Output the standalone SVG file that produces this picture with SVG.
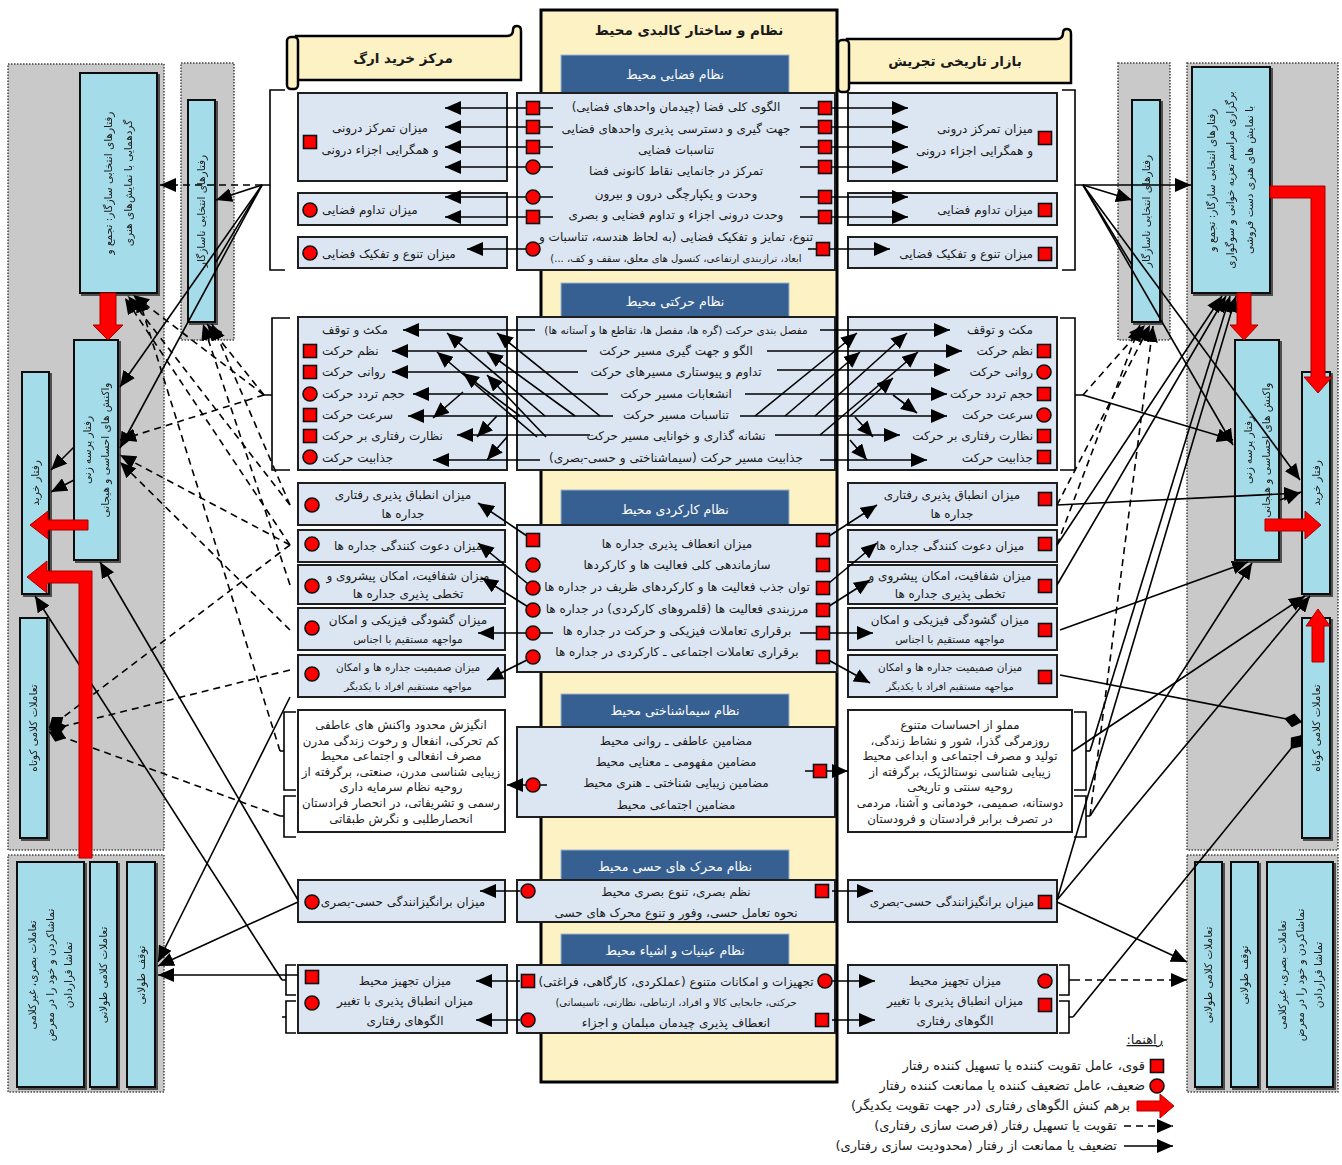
<svg xmlns="http://www.w3.org/2000/svg" width="1342" height="1165" viewBox="0 0 1342 1165">
<style>
.f{font-family:"DejaVu Sans",sans-serif;fill:#1a1a1a;direction:rtl;font-size:12px}
.mid{text-anchor:middle}
.rt{text-anchor:start}
.lt{text-anchor:end}
.sm{font-size:10.5px}
.xs{font-size:10px}
.sem{font-size:11.8px}
.lg{font-size:13px}
.b{font-weight:bold;font-size:13.5px}
.cbox{fill:#dce6f2;stroke:#1f1f1f;stroke-width:2}
.wbox{fill:#fff;stroke:#1f1f1f;stroke-width:2}
.hdr{fill:#376092;stroke:#9db3d0;stroke-width:1}
.htx{fill:#fff;font-size:12.5px}
.sbox{fill:#a5dce9;stroke:#111;stroke-width:2}
.panel{fill:#c9c9c9;stroke:#444;stroke-width:1.5;stroke-dasharray:1.5 1.5}
.mk{fill:#f00;stroke:#111;stroke-width:1.6}
.ln{stroke:#000;stroke-width:1.6;fill:none}
.ds{stroke:#000;stroke-width:1.6;fill:none;stroke-dasharray:7 5}
.br{stroke:#000;stroke-width:1.6;fill:none}
.red{fill:#f00;stroke:#a00;stroke-width:1}
.rot{font-size:10.5px}
</style>
<defs>
<marker id="ah" viewBox="0 0 16 14" refX="16" refY="7" markerWidth="16" markerHeight="14" markerUnits="userSpaceOnUse" orient="auto"><path d="M0,0 L16,7 L0,14 z" fill="#000"/></marker>
<marker id="dm" viewBox="0 0 18 14" refX="18" refY="7" markerWidth="18" markerHeight="14" markerUnits="userSpaceOnUse" orient="auto"><path d="M0,7 L9,0 L18,7 L9,14 z" fill="#000"/></marker>
<rect id="sq" x="-6.5" y="-6.5" width="13" height="13" class="mk"/>
<circle id="ci" r="7" class="mk"/>
<filter id="sh" x="-10%" y="-10%" width="130%" height="130%"><feDropShadow dx="2" dy="2" stdDeviation="0.6" flood-color="#333" flood-opacity="0.8"/></filter>
</defs>
<rect width="1342" height="1165" fill="#fff"/>

<!-- side panels -->
<g id="panels">
<rect class="panel" x="8" y="64" width="156" height="786"/>
<rect class="panel" x="181" y="63" width="53" height="277"/>
<rect class="panel" x="8" y="855" width="156" height="237"/>
<rect class="panel" x="1118" y="63" width="52" height="277"/>
<rect class="panel" x="1187" y="63" width="151" height="787"/>
<rect class="panel" x="1187" y="855" width="151" height="237"/>
</g>

<!-- central column -->
<g id="central-column">
<rect x="541" y="10" width="296" height="1072" fill="#fcf2c4" stroke="#000" stroke-width="3"/>
<text class="f mid b" x="689" y="35">نظام و ساختار کالبدی محیط</text>
</g>

<!-- banners -->
<g id="banner-arg">
<path d="M296,36 H507 Q513,36 513,30 Q513,26 517,26 Q521,26 521,31 V80 H296 Z" fill="#fcf2c4" stroke="#000" stroke-width="2.5"/>
<rect x="287" y="37" width="11" height="52" rx="4" fill="#fcf2c4" stroke="#000" stroke-width="2.5"/>
<text class="f mid b" x="403" y="63">مرکز خرید ارگ</text>
</g>
<g id="banner-tajrish">
<path d="M847,39 H1057 Q1063,39 1063,33 Q1063,29 1067,29 Q1071,29 1071,34 V83 H847 Z" fill="#fcf2c4" stroke="#000" stroke-width="2.5"/>
<rect x="838" y="40" width="11" height="52" rx="4" fill="#fcf2c4" stroke="#000" stroke-width="2.5"/>
<text class="f mid b" x="955" y="66">بازار تاریخی تجریش</text>
</g>

<!-- headers -->
<g id="headers">
<rect class="hdr" x="561" y="55" width="228" height="38"/><text class="f mid htx" x="675" y="79">نظام فضایی محیط</text>
<rect class="hdr" x="561" y="283" width="228" height="35"/><text class="f mid htx" x="675" y="306">نظام حرکتی محیط</text>
<rect class="hdr" x="561" y="490" width="228" height="36"/><text class="f mid htx" x="675" y="514">نظام کارکردی محیط</text>
<rect class="hdr" x="561" y="694" width="228" height="34"/><text class="f mid htx" x="675" y="715">نظام سیماشناختی محیط</text>
<rect class="hdr" x="561" y="850" width="228" height="31"/><text class="f mid htx" x="675" y="871">نظام محرک های حسی محیط</text>
<rect class="hdr" x="561" y="934" width="228" height="32"/><text class="f mid htx" x="675" y="955">نظام عینیات و اشیاء محیط</text>
</g>

<!-- central boxes -->
<g id="c-spatial">
<rect class="cbox" x="517" y="93" width="318" height="177"/>
<text class="f mid" x="676" y="111">الگوی کلی فضا (چیدمان واحدهای فضایی)</text>
<text class="f mid" x="676" y="133">جهت گیری و دسترسی پذیری واحدهای فضایی</text>
<text class="f mid" x="676" y="154">تناسبات فضایی</text>
<text class="f mid" x="676" y="175">تمرکز در جانمایی نقاط کانونی فضا</text>
<text class="f mid" x="676" y="198">وحدت و یکپارچگی درون و بیرون</text>
<text class="f mid" x="676" y="219">وحدت درونی اجزاء و تداوم فضایی و بصری</text>
<text class="f mid" x="676" y="241">تنوع، تمایز و تفکیک فضایی (به لحاظ هندسه، تناسبات و</text>
<text class="f mid xs" x="676" y="262">ابعاد، ترازبندی ارتفاعی، کنسول های معلق، سقف و کف، ...)</text>
</g>
<g id="c-movement">
<rect class="cbox" x="517" y="317" width="318" height="153"/>
<text class="f mid sm" x="676" y="334">مفصل بندی حرکت (گره ها، مفصل ها، تقاطع ها و آستانه ها)</text>
<text class="f mid" x="676" y="355">الگو و جهت گیری مسیر حرکت</text>
<text class="f mid" x="676" y="376">تداوم و پیوستاری مسیرهای حرکت</text>
<text class="f mid" x="676" y="398">انشعابات مسیر حرکت</text>
<text class="f mid" x="676" y="419">تناسبات مسیر حرکت</text>
<text class="f mid" x="676" y="440">نشانه گذاری و خوانایی مسیر حرکت</text>
<text class="f mid" x="676" y="462">جذابیت مسیر حرکت (سیماشناختی و حسی-بصری)</text>
</g>
<g id="c-functional">
<rect class="cbox" x="517" y="525" width="320" height="147"/>
<text class="f mid" x="677" y="548">میزان انعطاف پذیری جداره ها</text>
<text class="f mid" x="677" y="569">سازماندهی کلی فعالیت ها و کارکردها</text>
<text class="f mid" x="677" y="591">توان جذب فعالیت ها و کارکردهای ظریف در جداره ها</text>
<text class="f mid" x="677" y="613">مرزبندی فعالیت ها (قلمروهای کارکردی) در جداره ها</text>
<text class="f mid" x="677" y="635">برقراری تعاملات فیزیکی و حرکت در جداره ها</text>
<text class="f mid" x="677" y="656">برقراری تعاملات اجتماعی ـ کارکردی در جداره ها</text>
</g>
<g id="c-semiotic">
<rect class="cbox" x="517" y="727" width="318" height="90"/>
<text class="f mid" x="676" y="745">مضامین عاطفی ـ روانی محیط</text>
<text class="f mid" x="676" y="766">مضامین مفهومی ـ معنایی محیط</text>
<text class="f mid" x="676" y="787">مضامین زیبایی شناختی ـ هنری محیط</text>
<text class="f mid" x="676" y="809">مضامین اجتماعی محیط</text>
</g>
<g id="c-sensory">
<rect class="cbox" x="517" y="880" width="318" height="42"/>
<text class="f mid" x="676" y="896">نظم بصری، تنوع بصری محیط</text>
<text class="f mid" x="676" y="917">نحوه تعامل حسی، وفور و تنوع محرک های حسی</text>
</g>
<g id="c-objects">
<rect class="cbox" x="517" y="965" width="318" height="68"/>
<text class="f mid" x="676" y="986">تجهیزات و امکانات متنوع (عملکردی، کارگاهی، فراغتی)</text>
<text class="f mid xs" x="676" y="1006">حرکتی، جابجایی کالا و افراد، ارتباطی، نظارتی، تاسیساتی)</text>
<text class="f mid" x="676" y="1027">انعطاف پذیری چیدمان مبلمان و اجزاء</text>
</g>

<!-- left boxes -->
<g id="l-spatial">
<rect class="cbox" x="298" y="93" width="209" height="88"/>
<text class="f mid" x="380" y="132">میزان تمرکز درونی</text>
<text class="f mid" x="380" y="154">و همگرایی اجزاء درونی</text>
<use href="#sq" x="310" y="142"/>
<rect class="cbox" x="298" y="193" width="209" height="32"/>
<text class="f lt" x="322" y="214">میزان تداوم فضایی</text>
<use href="#ci" x="310" y="210"/>
<rect class="cbox" x="298" y="237" width="209" height="31"/>
<text class="f lt" x="322" y="258">میزان تنوع و تفکیک فضایی</text>
<use href="#ci" x="310" y="253"/>
</g>
<g id="r-spatial">
<rect class="cbox" x="848" y="93" width="209" height="88"/>
<text class="f rt" x="1033" y="133">میزان تمرکز درونی</text>
<text class="f rt" x="1033" y="155">و همگرایی اجزاء درونی</text>
<use href="#sq" x="1045" y="138"/>
<rect class="cbox" x="848" y="193" width="209" height="32"/>
<text class="f rt" x="1033" y="214">میزان تداوم فضایی</text>
<use href="#sq" x="1045" y="210"/>
<rect class="cbox" x="848" y="237" width="209" height="31"/>
<text class="f rt" x="1033" y="258">میزان تنوع و تفکیک فضایی</text>
<use href="#sq" x="1045" y="254"/>
</g>

<g id="l-movement">
<rect class="cbox" x="298" y="317" width="209" height="153"/>
<text class="f lt" x="322" y="334">مکث و توقف</text>
<text class="f lt" x="322" y="355">نظم حرکت</text>
<text class="f lt" x="322" y="376">روانی حرکت</text>
<text class="f lt" x="322" y="398">حجم تردد حرکت</text>
<text class="f lt" x="322" y="419">سرعت حرکت</text>
<text class="f lt" x="322" y="440">نظارت رفتاری بر حرکت</text>
<text class="f lt" x="322" y="462">جذابیت حرکت</text>
<use href="#sq" x="310" y="351"/><use href="#sq" x="310" y="372"/><use href="#ci" x="310" y="394"/><use href="#sq" x="310" y="415"/><use href="#sq" x="310" y="436"/><use href="#ci" x="310" y="457"/>
</g>
<g id="r-movement">
<rect class="cbox" x="848" y="317" width="209" height="153"/>
<text class="f rt" x="1033" y="334">مکث و توقف</text>
<text class="f rt" x="1033" y="355">نظم حرکت</text>
<text class="f rt" x="1033" y="376">روانی حرکت</text>
<text class="f rt" x="1033" y="398">حجم تردد حرکت</text>
<text class="f rt" x="1033" y="419">سرعت حرکت</text>
<text class="f rt" x="1033" y="440">نظارت رفتاری بر حرکت</text>
<text class="f rt" x="1033" y="462">جذابیت حرکت</text>
<use href="#sq" x="1044" y="351"/><use href="#ci" x="1044" y="372"/><use href="#sq" x="1044" y="394"/><use href="#ci" x="1044" y="415"/><use href="#sq" x="1044" y="436"/><use href="#sq" x="1044" y="457"/>
</g>

<g id="l-functional">
<rect class="cbox" x="298" y="483" width="207" height="42"/>
<text class="f mid" x="403" y="499">میزان انطباق پذیری رفتاری</text>
<text class="f mid" x="403" y="518">جداره ها</text>
<use href="#ci" x="312" y="505"/>
<rect class="cbox" x="298" y="530" width="207" height="32"/>
<text class="f mid" x="408" y="550">میزان دعوت کنندگی جداره ها</text>
<use href="#ci" x="312" y="544"/>
<rect class="cbox" x="298" y="565" width="207" height="39"/>
<text class="f mid" x="408" y="580">میزان شفافیت، امکان پیشروی و</text>
<text class="f mid" x="408" y="598">تخطی پذیری جداره ها</text>
<use href="#ci" x="312" y="586"/>
<rect class="cbox" x="298" y="608" width="207" height="42"/>
<text class="f mid" x="408" y="624">میزان گشودگی فیزیکی و امکان</text>
<text class="f mid sm" x="408" y="643">مواجهه مستقیم با اجناس</text>
<use href="#ci" x="312" y="628"/>
<rect class="cbox" x="298" y="655" width="207" height="42"/>
<text class="f mid sm" x="408" y="671">میزان صمیمیت جداره ها و امکان</text>
<text class="f mid xs" x="408" y="690">مواجهه مستقیم افراد با یکدیگر</text>
<use href="#ci" x="312" y="674"/>
</g>
<g id="r-functional">
<rect class="cbox" x="848" y="483" width="209" height="42"/>
<text class="f mid" x="952" y="499">میزان انطباق پذیری رفتاری</text>
<text class="f mid" x="952" y="518">جداره ها</text>
<use href="#sq" x="1045" y="499"/>
<rect class="cbox" x="848" y="530" width="209" height="32"/>
<text class="f mid" x="950" y="550">میزان دعوت کنندگی جداره ها</text>
<use href="#sq" x="1045" y="544"/>
<rect class="cbox" x="848" y="565" width="209" height="39"/>
<text class="f mid" x="950" y="580">میزان شفافیت، امکان پیشروی و</text>
<text class="f mid" x="950" y="598">تخطی پذیری جداره ها</text>
<use href="#sq" x="1045" y="586"/>
<rect class="cbox" x="848" y="608" width="209" height="42"/>
<text class="f mid" x="950" y="624">میزان گشودگی فیزیکی و امکان</text>
<text class="f mid sm" x="950" y="643">مواجهه مستقیم با اجناس</text>
<use href="#sq" x="1045" y="630"/>
<rect class="cbox" x="848" y="655" width="209" height="42"/>
<text class="f mid sm" x="950" y="671">میزان صمیمیت جداره ها و امکان</text>
<text class="f mid xs" x="950" y="690">مواجهه مستقیم افراد با یکدیگر</text>
<use href="#sq" x="1045" y="677"/>
</g>

<g id="l-semiotic">
<rect class="wbox" x="298" y="710" width="207" height="122"/>
<text class="f mid sem" x="401" y="729">انگیزش محدود واکنش های عاطفی</text>
<text class="f mid sem" x="401" y="745">کم تحرکی، انفعال و رخوت زندگی مدرن</text>
<text class="f mid sem" x="401" y="760">مصرف انفعالی و اجتماعی محیط</text>
<text class="f mid sem" x="401" y="776">زیبایی شناسی مدرن، صنعتی، برگرفته از</text>
<text class="f mid sem" x="401" y="791">روحیه نظام سرمایه داری</text>
<text class="f mid sem" x="401" y="807">رسمی و تشریفاتی، در انحصار فرادستان</text>
<text class="f mid sem" x="401" y="823">انحصارطلبی و نگرش طبقاتی</text>
</g>
<g id="r-semiotic">
<rect class="wbox" x="848" y="710" width="224" height="122"/>
<text class="f mid sem" x="960" y="729">مملو از احساسات متنوع</text>
<text class="f mid sem" x="960" y="745">روزمرگی گذرا، شور و نشاط زندگی،</text>
<text class="f mid sem" x="960" y="760">تولید و مصرف اجتماعی و ابداعی محیط</text>
<text class="f mid sem" x="960" y="776">زیبایی شناسی نوستالژیک، برگرفته از</text>
<text class="f mid sem" x="960" y="791">روحیه سنتی و تاریخی</text>
<text class="f mid sem" x="960" y="807">دوستانه، صمیمی، خودمانی و آشنا، مردمی</text>
<text class="f mid sem" x="960" y="823">در تصرف برابر فرادستان و فرودستان</text>
</g>

<g id="l-sensory">
<rect class="cbox" x="298" y="880" width="207" height="42"/>
<text class="f mid" x="403" y="906">میزان برانگیزانندگی حسی-بصری</text>
<use href="#ci" x="312" y="902"/>
</g>
<g id="r-sensory">
<rect class="cbox" x="848" y="880" width="209" height="42"/>
<text class="f mid" x="952" y="906">میزان برانگیزانندگی حسی-بصری</text>
<use href="#sq" x="1045" y="902"/>
</g>
<g id="l-objects">
<rect class="cbox" x="298" y="965" width="209" height="68"/>
<text class="f mid" x="405" y="985">میزان تجهیز محیط</text>
<text class="f mid" x="405" y="1005">میزان انطباق پذیری با تغییر</text>
<text class="f mid" x="405" y="1025">الگوهای رفتاری</text>
<use href="#sq" x="312" y="977"/><use href="#ci" x="312" y="1003"/>
</g>
<g id="r-objects">
<rect class="cbox" x="848" y="965" width="209" height="68"/>
<text class="f mid" x="955" y="985">میزان تجهیز محیط</text>
<text class="f mid" x="955" y="1005">میزان انطباق پذیری با تغییر</text>
<text class="f mid" x="955" y="1025">الگوهای رفتاری</text>
<use href="#ci" x="1045" y="981"/><use href="#sq" x="1045" y="1005"/>
</g>

<!-- side behaviour boxes -->
<g id="l-sazgar" filter="url(#sh)">
<rect class="sbox" x="80" y="73" width="77" height="220"/>
<text class="f mid rot" transform="translate(118,183) rotate(-90)"><tspan x="0" y="-6">رفتارهای انتخابی سازگار: تجمع و</tspan><tspan x="0" y="14">گردهمایی با نمایش‌های هنری</tspan></text>
</g>
<g id="l-nasazgar" filter="url(#sh)">
<rect class="sbox" x="188" y="100" width="27" height="222"/>
<text class="f mid rot" transform="translate(205,211) rotate(-90)">رفتارهای انتخابی ناسازگار</text>
</g>
<g id="l-parse" filter="url(#sh)">
<rect class="sbox" x="74" y="340" width="44" height="220"/>
<text class="f mid rot" transform="translate(96,450) rotate(-90)"><tspan x="0" y="-5">رفتار پرسه زنی</tspan><tspan x="0" y="13">واکنش های احساسی و هیجانی</tspan></text>
</g>
<g id="l-kharid" filter="url(#sh)">
<rect class="sbox" x="22" y="372" width="27" height="222"/>
<text class="f mid rot" transform="translate(39,483) rotate(-90)">رفتار خرید</text>
</g>
<g id="l-kotah" filter="url(#sh)">
<rect class="sbox" x="20" y="618" width="27" height="220"/>
<text class="f mid rot" transform="translate(37,728) rotate(-90)">تعاملات کلامی کوتاه</text>
</g>
<g id="l-basari" filter="url(#sh)">
<rect class="sbox" x="17" y="862" width="67" height="225"/>
<text class="f mid rot" transform="translate(50,975) rotate(-90)"><tspan x="0" y="-14">تعاملات بصری، غیرکلامی</tspan><tspan x="0" y="4">تماشاکردن و خود را در معرض</tspan><tspan x="0" y="22">تماشا قراردادن</tspan></text>
</g>
<g id="l-talani" filter="url(#sh)">
<rect class="sbox" x="90" y="862" width="27" height="225"/>
<text class="f mid rot" transform="translate(107,975) rotate(-90)">تعاملات کلامی طولانی</text>
</g>
<g id="l-tavaqof" filter="url(#sh)">
<rect class="sbox" x="127" y="862" width="28" height="225"/>
<text class="f mid rot" transform="translate(145,975) rotate(-90)">توقف طولانی</text>
</g>

<g id="r-nasazgar" filter="url(#sh)">
<rect class="sbox" x="1132" y="100" width="28" height="222"/>
<text class="f mid rot" transform="translate(1150,211) rotate(-90)">رفتارهای انتخابی ناسازگار</text>
</g>
<g id="r-sazgar" filter="url(#sh)">
<rect class="sbox" x="1192" y="67" width="78" height="226"/>
<text class="f mid rot" transform="translate(1231,180) rotate(-90)"><tspan x="0" y="-16">رفتارهای انتخابی سازگار: تجمع و</tspan><tspan x="0" y="3">برگزاری مراسم تعزیه خوانی و سوگواری</tspan><tspan x="0" y="22">با نمایش های هنری دست فروشی</tspan></text>
</g>
<g id="r-parse" filter="url(#sh)">
<rect class="sbox" x="1235" y="340" width="44" height="220"/>
<text class="f mid rot" transform="translate(1257,450) rotate(-90)"><tspan x="0" y="-5">رفتار پرسه زنی</tspan><tspan x="0" y="13">واکنش های احساسی و هیجانی</tspan></text>
</g>
<g id="r-kharid" filter="url(#sh)">
<rect class="sbox" x="1302" y="372" width="28" height="222"/>
<text class="f mid rot" transform="translate(1320,483) rotate(-90)">رفتار خرید</text>
</g>
<g id="r-kotah" filter="url(#sh)">
<rect class="sbox" x="1302" y="618" width="28" height="220"/>
<text class="f mid rot" transform="translate(1320,728) rotate(-90)">تعاملات کلامی کوتاه</text>
</g>
<g id="r-talani" filter="url(#sh)">
<rect class="sbox" x="1195" y="862" width="27" height="225"/>
<text class="f mid rot" transform="translate(1212,975) rotate(-90)">تعاملات کلامی طولانی</text>
</g>
<g id="r-tavaqof" filter="url(#sh)">
<rect class="sbox" x="1231" y="862" width="27" height="225"/>
<text class="f mid rot" transform="translate(1248,975) rotate(-90)">توقف طولانی</text>
</g>
<g id="r-basari" filter="url(#sh)">
<rect class="sbox" x="1267" y="862" width="66" height="225"/>
<text class="f mid rot" transform="translate(1300,975) rotate(-90)"><tspan x="0" y="-14">تعاملات بصری، غیرکلامی</tspan><tspan x="0" y="4">تماشاکردن و خود را در معرض</tspan><tspan x="0" y="22">تماشا قراردادن</tspan></text>
</g>

<!-- connectors -->
<g id="connectors">
<!-- brackets -->
<path class="br" d="M285,90 H270 V270 H285 M270,185 H262"/>
<path class="br" d="M290,318 H272 V470 H290 M272,395 H264"/>
<path class="br" d="M296,712 H284 V790 H296 M284,751 H280 M296,796 H284 V837 H296 M284,816 H280"/>
<path class="br" d="M296,965 H286 V995 H296 M286,980 H282 M296,1001 H286 V1033 H296 M286,1017 H282"/>
<path class="br" d="M1062,90 H1075 V270 H1062 M1075,185 H1083"/>
<path class="br" d="M1060,318 H1075 V470 H1060 M1075,395 H1083"/>
<path class="br" d="M1074,712 H1086 V790 H1074 M1086,751 H1090 M1074,796 H1086 V837 H1074 M1086,816 H1090"/>
<path class="br" d="M1059,965 H1069 V995 H1059 M1069,980 H1073 M1059,1001 H1069 V1033 H1059 M1069,1017 H1073"/>

<!-- spatial arrows -->
<g marker-end="url(#ah)">
<path class="ln" d="M553,108 H445"/><path class="ln" d="M553,127 H445"/><path class="ln" d="M553,147 H445"/><path class="ln" d="M553,167 H445"/>
<path class="ln" d="M553,197 H445"/><path class="ln" d="M553,217 H445"/><path class="ln" d="M533,249 H467"/>
<path class="ln" d="M800,108 H908"/><path class="ln" d="M800,127 H908"/><path class="ln" d="M800,147 H908"/><path class="ln" d="M800,167 H908"/>
<path class="ln" d="M800,197 H908"/><path class="ln" d="M800,217 H908"/><path class="ln" d="M808,249 H890"/>
</g>
<use href="#sq" x="533" y="108"/><use href="#sq" x="533" y="127"/><use href="#sq" x="533" y="147"/><use href="#ci" x="533" y="167"/><use href="#ci" x="533" y="197"/><use href="#sq" x="533" y="217"/><use href="#ci" x="533" y="249"/>
<use href="#sq" x="825" y="108"/><use href="#sq" x="825" y="127"/><use href="#sq" x="825" y="147"/><use href="#sq" x="825" y="167"/><use href="#sq" x="825" y="197"/><use href="#sq" x="825" y="217"/><use href="#sq" x="823" y="249"/>

<!-- movement arrows -->
<g marker-end="url(#ah)">
<path class="ln" d="M535,330 H403"/><path class="ln" d="M587,351 H392"/><path class="ln" d="M578,372 H392"/><path class="ln" d="M608,394 H413"/><path class="ln" d="M613,416 H408"/><path class="ln" d="M590,435 H457"/><path class="ln" d="M540,460 H433"/>
<path class="ln" d="M600,416 L497,333"/><path class="ln" d="M545,416 L447,333"/><path class="ln" d="M575,416 L487,352"/><path class="ln" d="M537,437 L437,352"/><path class="ln" d="M546,437 L487,375"/><path class="ln" d="M520,416 L463,373"/>
<path class="ln" d="M463,392 L433,418"/><path class="ln" d="M497,416 L477,437"/><path class="ln" d="M507,437 L487,460"/>
<path class="ln" d="M820,330 H950"/><path class="ln" d="M767,351 H962"/><path class="ln" d="M777,370 H950"/><path class="ln" d="M745,394 H947"/><path class="ln" d="M740,416 H947"/><path class="ln" d="M775,435 H900"/><path class="ln" d="M820,460 H927"/>
<path class="ln" d="M755,416 L857,333"/><path class="ln" d="M785,416 L860,352"/><path class="ln" d="M815,416 L907,333"/><path class="ln" d="M820,435 L918,352"/><path class="ln" d="M850,416 L893,378"/>
<path class="ln" d="M893,395 L917,413"/><path class="ln" d="M855,417 L873,437"/><path class="ln" d="M850,440 L867,460"/>
</g>

<!-- functional arrows -->
<g marker-end="url(#ah)">
<path class="ln" d="M533,540 L478,503"/><path class="ln" d="M533,588 L478,543"/><path class="ln" d="M533,610 L482,578"/><path class="ln" d="M553,633 H478"/><path class="ln" d="M533,657 L487,680"/>
<path class="ln" d="M823,540 L877,505"/><path class="ln" d="M823,588 L877,543"/><path class="ln" d="M823,610 L870,580"/><path class="ln" d="M800,633 H873"/><path class="ln" d="M823,657 L870,683"/>
</g>
<use href="#sq" x="533" y="540"/><use href="#ci" x="533" y="565"/><use href="#ci" x="533" y="588"/><use href="#ci" x="533" y="610"/><use href="#ci" x="533" y="633"/><use href="#ci" x="533" y="657"/>
<use href="#sq" x="823" y="540"/><use href="#sq" x="823" y="565"/><use href="#sq" x="823" y="588"/><use href="#sq" x="823" y="610"/><use href="#sq" x="823" y="633"/><use href="#sq" x="823" y="657"/>

<!-- semiotic, sensory, objects arrows -->
<g marker-end="url(#ah)">
<path class="ln" d="M547,785 H507"/><path class="ln" d="M805,771 H848"/>
<path class="ln" d="M520,891 H480"/><path class="ln" d="M832,891 H873"/>
<path class="ln" d="M520,981 H476"/><path class="ln" d="M520,1020 H476"/>
<path class="ln" d="M832,981 H875"/><path class="ln" d="M832,1020 H875"/>
</g>
<use href="#ci" x="533" y="785"/><use href="#sq" x="820" y="771"/>
<use href="#ci" x="528" y="891"/><use href="#sq" x="822" y="891"/>
<use href="#sq" x="528" y="981"/><use href="#ci" x="528" y="1020"/><use href="#ci" x="825" y="981"/><use href="#sq" x="822" y="1020"/>

<!-- left side solid -->
<g marker-end="url(#ah)">
<path class="ln" d="M262,185 L216,200"/>
<path class="ln" d="M262,185 L120,387"/>
<path class="ln" d="M262,185 L120,448"/>
<path class="ln" d="M74,447 L51,470"/>
<path class="ln" d="M74,480 L51,492"/>
<path class="ln" d="M298,900 L100,562"/>
<path class="ln" d="M282,980 L35,596"/>
<path class="ln" d="M290,697 L158,962"/>
<path class="ln" d="M298,902 L158,966"/>
<path class="ln" d="M298,975 L158,975"/>
</g>
<path class="ln" d="M262,185 L216,262"/>
<!-- left side dashed -->
<g marker-end="url(#ah)">
<path class="ds" d="M262,185 L160,185"/>
<path class="ds" d="M264,395 L120,440"/>
<path class="ds" d="M264,395 L133,295"/>
<path class="ds" d="M264,395 L207,324"/>
<path class="ds" d="M290,505 L128,296"/>
<path class="ds" d="M290,505 L212,324"/>
<path class="ds" d="M290,545 L125,298"/>
<path class="ds" d="M290,585 L203,324"/>
<path class="ds" d="M290,630 L120,462"/>
<path class="ds" d="M280,751 L138,296"/>
<path class="ds" d="M290,545 L120,455"/>
</g>
<g marker-end="url(#dm)">
<path class="ds" d="M290,545 L49,728"/>
<path class="ds" d="M290,670 L49,730"/>
<path class="ds" d="M280,816 L49,732"/>
</g>

<!-- right side solid -->
<g marker-end="url(#ah)">
<path class="ln" d="M1083,185 L1191,185"/>
<path class="ln" d="M1083,185 L1132,200"/>
<path class="ln" d="M1083,185 L1233,445"/>
<path class="ln" d="M1083,185 L1300,480"/>
<path class="ln" d="M1083,395 L1233,440"/>
<path class="ln" d="M1057,505 L1300,493"/>
<path class="ln" d="M1057,545 L1222,296"/>
<path class="ln" d="M1057,585 L1226,296"/>
<path class="ln" d="M1060,630 L1248,562"/>
<path class="ln" d="M1090,751 L1230,296"/>
<path class="ln" d="M1090,816 L1252,563"/>
<path class="ln" d="M1057,900 L1236,296"/>
<path class="ln" d="M1057,900 L1310,596"/>
<path class="ln" d="M1073,751 L1305,596"/>
<path class="ln" d="M1057,902 L1187,962"/>
<path class="ln" d="M1280,500 L1301,492"/>
</g>
<g marker-end="url(#dm)">
<path class="ln" d="M1060,675 L1302,722"/>
<path class="ln" d="M1073,1017 L1302,735"/>
</g>
<path class="ln" d="M1083,185 L1132,265"/>
<!-- right side dashed -->
<g marker-end="url(#ah)">
<path class="ds" d="M1083,395 L1145,325"/>
<path class="ds" d="M1057,505 L1150,325"/>
<path class="ds" d="M1057,545 L1140,325"/>
<path class="ds" d="M1090,816 L1153,326"/>
<path class="ds" d="M1073,980 L1187,980"/>
</g>
</g>

<!-- red interaction arrows -->
<g id="red-arrows">
<path class="red" d="M100,293 H116 V325 H123 L108,340 L93,325 H100 Z"/>
<path class="red" d="M88,520 V530 H48 V539 L30,525 L48,511 V520 Z"/>
<path class="red" d="M79,858 V583 H47 V593 L27,577 L47,561 V571 H92 V858 Z"/>
<path class="red" d="M1237,293 H1251 V325 H1258 L1244,340 L1230,325 H1237 Z"/>
<path class="red" d="M1270,186 H1325 V377 H1332 L1318,393 L1304,377 H1311 V198 H1270 Z"/>
<path class="red" d="M1265,519 H1305 V511 L1321,525 L1305,539 V531 H1265 Z"/>
<path class="red" d="M1312,662 V626 H1306 L1318,609 L1330,626 H1324 V662 Z"/>
</g>

<!-- legend -->
<g id="legend">
<text class="f rt lg" x="1163" y="1044" text-decoration="underline">راهنما:</text>
<use href="#sq" x="1157" y="1066"/>
<text class="f rt lg" x="1145" y="1070">قوی، عامل تقویت کننده یا تسهیل کننده رفتار</text>
<use href="#ci" x="1157" y="1086"/>
<text class="f rt lg" x="1145" y="1090">ضعیف، عامل تضعیف کننده یا ممانعت کننده رفتار</text>
<path class="red" d="M1137,1101 H1160 V1094 L1174,1106 L1160,1118 V1111 H1137 Z"/>
<text class="f rt lg" x="1130" y="1110">برهم کنش الگوهای رفتاری (در جهت تقویت یکدیگر)</text>
<path class="ds" d="M1124,1126 H1173" marker-end="url(#ah)"/>
<text class="f rt lg" x="1117" y="1130">تقویت یا تسهیل رفتار (فرصت سازی رفتاری)</text>
<path class="ln" d="M1124,1146 H1173" marker-end="url(#ah)"/>
<text class="f rt lg" x="1117" y="1150">تضعیف یا ممانعت از رفتار (محدودیت سازی رفتاری)</text>
</g>
</svg>
